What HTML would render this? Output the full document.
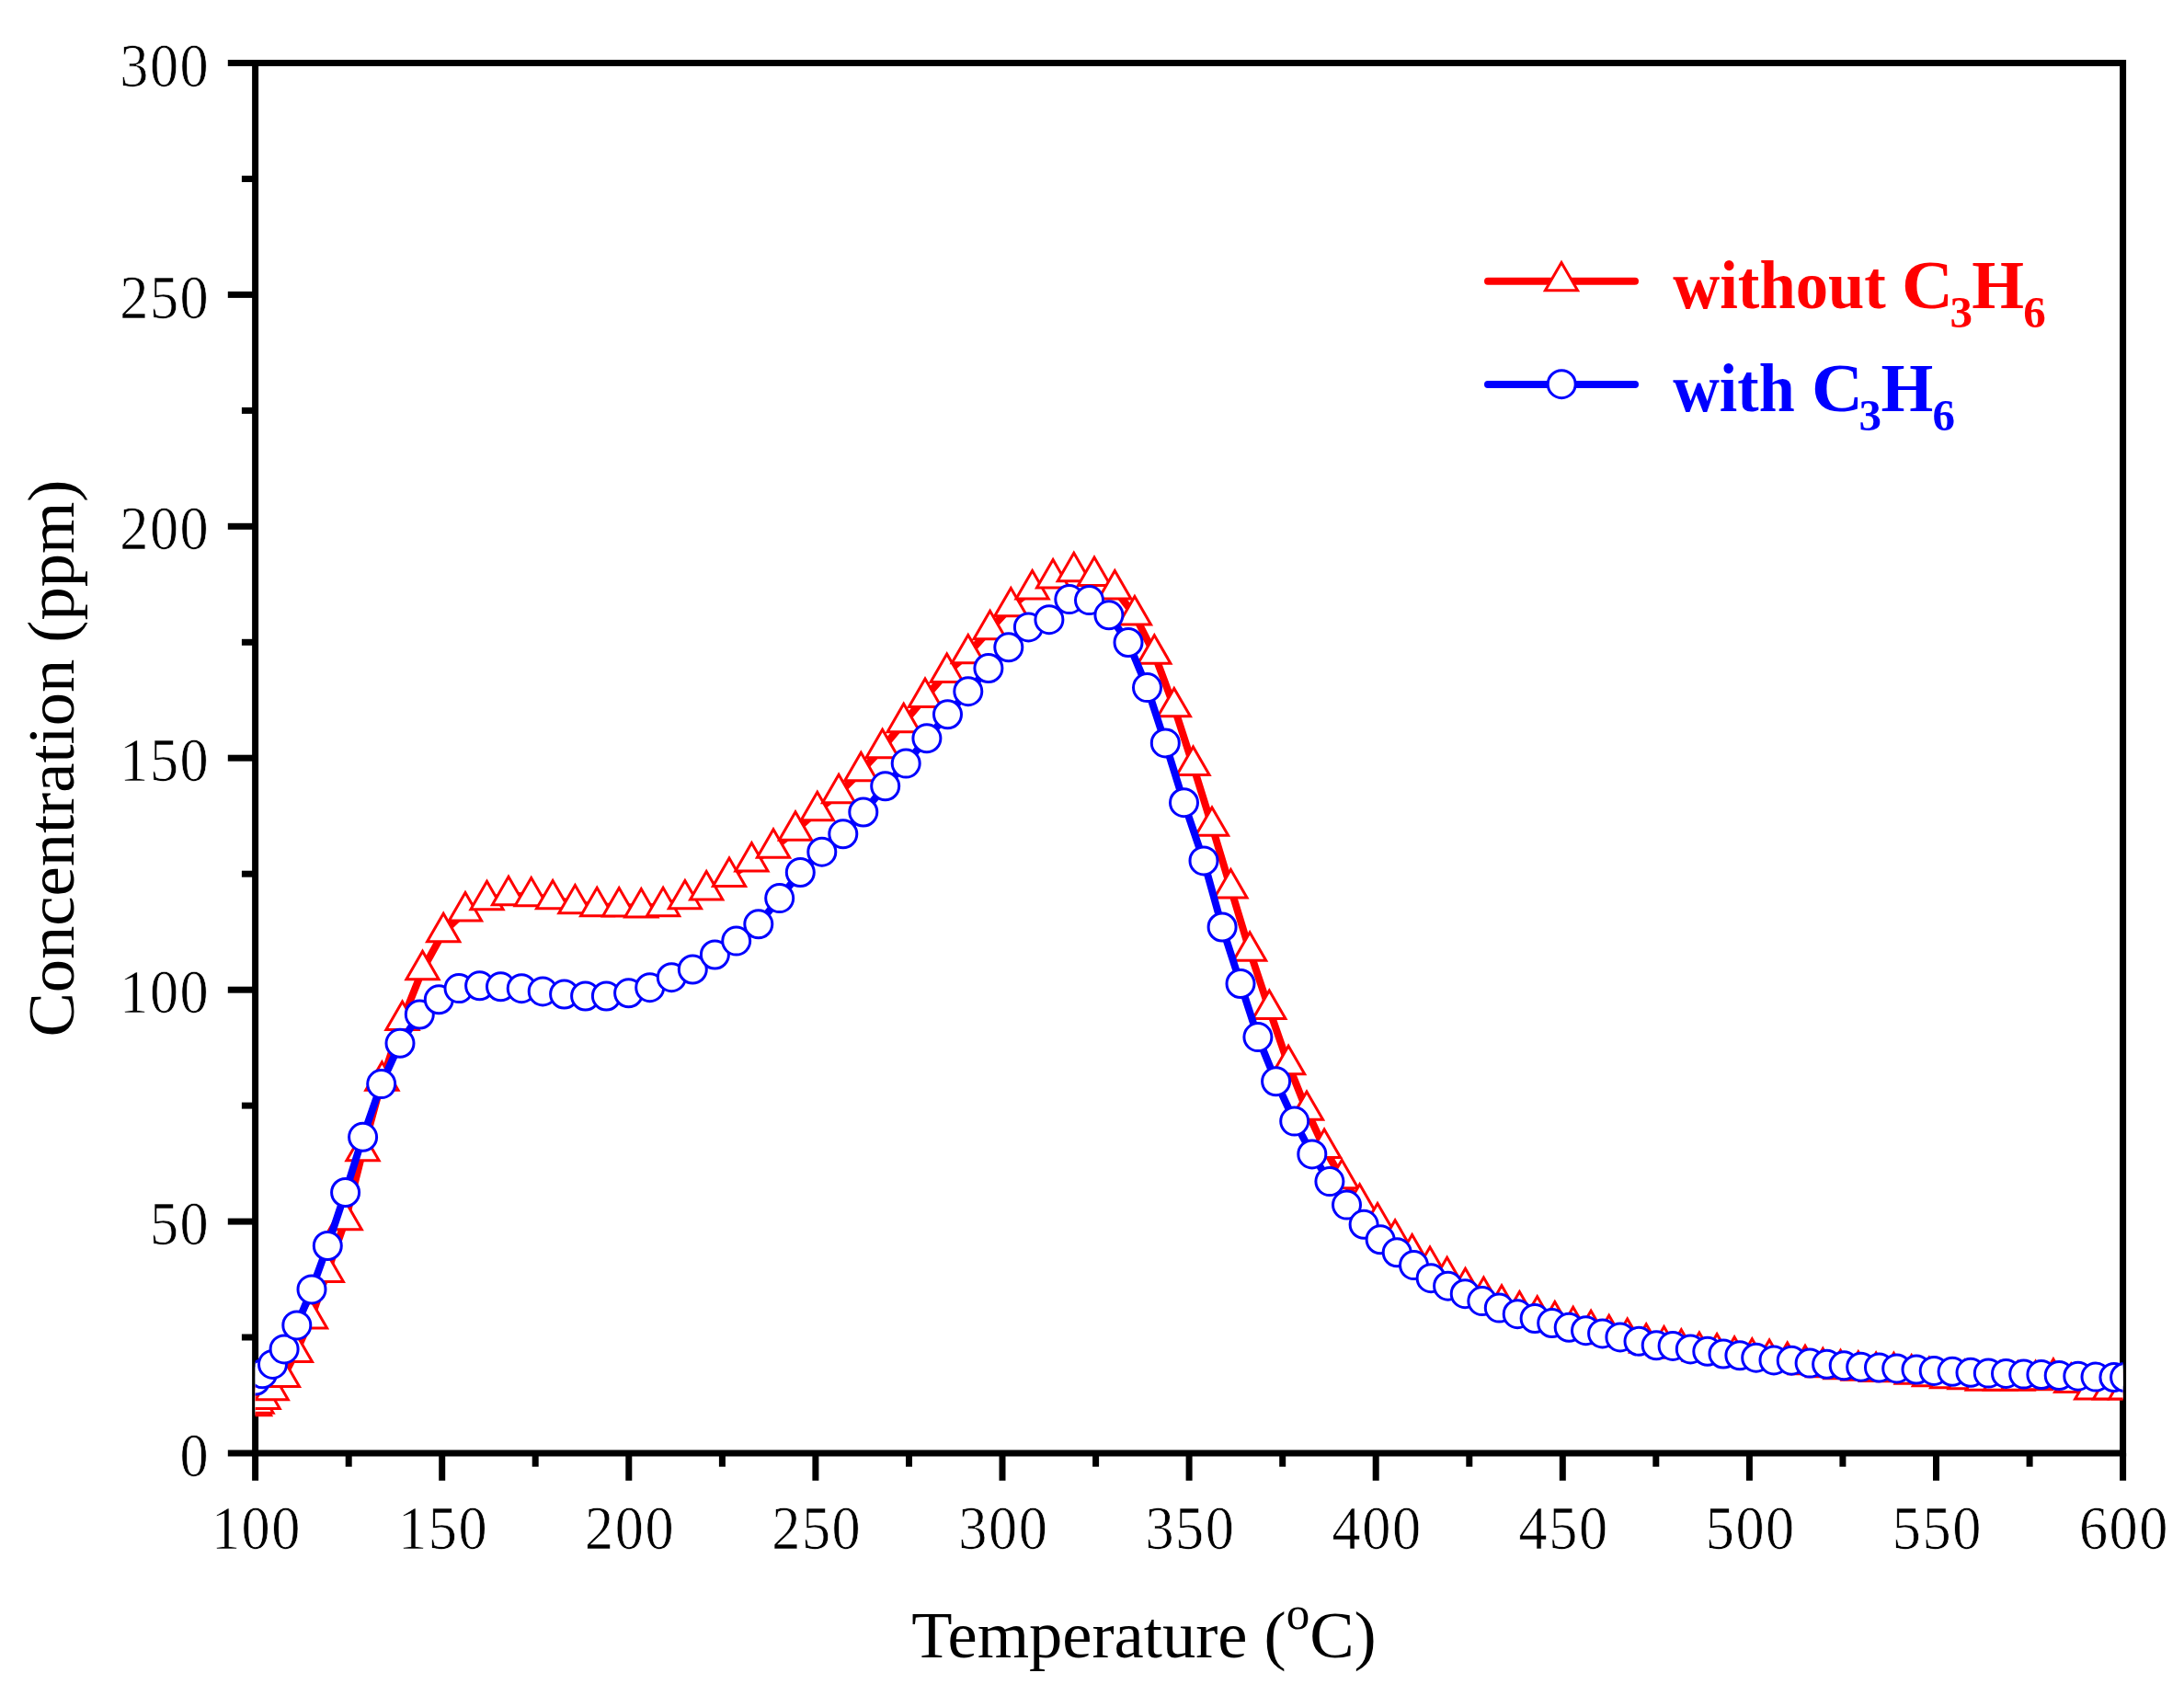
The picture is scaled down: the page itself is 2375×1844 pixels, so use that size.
<!DOCTYPE html>
<html lang="en"><head><meta charset="utf-8"><title>Concentration vs Temperature</title>
<style>
html,body{margin:0;padding:0;background:#fff;}
body{width:2375px;height:1844px;overflow:hidden;}
svg{display:block;}
.tick{font-family:"Liberation Serif","Noto Serif CJK SC",serif;font-size:67px;fill:#000;stroke:#fff;stroke-width:0.7px;}
.ttl{font-family:"Liberation Serif",serif;font-size:72.5px;fill:#000;}
.leg{font-family:"Liberation Serif",serif;font-weight:bold;font-size:73px;}
</style></head><body>
<svg width="2375" height="1844" viewBox="0 0 2375 1844">
<rect x="0" y="0" width="2375" height="1844" fill="#ffffff"/>
<defs><clipPath id="plot"><rect x="277.6" y="68.5" width="2031.0" height="1511.5"/></clipPath>
<path id="tri" d="M0,-20.3 L17.6,10.15 L-17.6,10.15 Z" fill="#fff" stroke-width="3" stroke-linejoin="miter"/>
<circle id="cir" cx="0" cy="0" r="15" fill="#fff" stroke-width="3"/>
</defs>
<g stroke="#000" stroke-width="7.0" fill="none" stroke-linecap="butt">
<line x1="277.6" y1="65.0" x2="277.6" y2="1583.5"/>
<line x1="2308.6" y1="65.0" x2="2308.6" y2="1583.5"/>
<line x1="277.6" y1="68.5" x2="2308.6" y2="68.5"/>
<line x1="277.6" y1="1580.0" x2="2308.6" y2="1580.0"/>
<line x1="277.6" y1="1580.0" x2="277.6" y2="1609.8"/>
<line x1="379.2" y1="1580.0" x2="379.2" y2="1594.7"/>
<line x1="480.7" y1="1580.0" x2="480.7" y2="1609.8"/>
<line x1="582.2" y1="1580.0" x2="582.2" y2="1594.7"/>
<line x1="683.8" y1="1580.0" x2="683.8" y2="1609.8"/>
<line x1="785.4" y1="1580.0" x2="785.4" y2="1594.7"/>
<line x1="886.9" y1="1580.0" x2="886.9" y2="1609.8"/>
<line x1="988.5" y1="1580.0" x2="988.5" y2="1594.7"/>
<line x1="1090.0" y1="1580.0" x2="1090.0" y2="1609.8"/>
<line x1="1191.6" y1="1580.0" x2="1191.6" y2="1594.7"/>
<line x1="1293.1" y1="1580.0" x2="1293.1" y2="1609.8"/>
<line x1="1394.7" y1="1580.0" x2="1394.7" y2="1594.7"/>
<line x1="1496.2" y1="1580.0" x2="1496.2" y2="1609.8"/>
<line x1="1597.8" y1="1580.0" x2="1597.8" y2="1594.7"/>
<line x1="1699.3" y1="1580.0" x2="1699.3" y2="1609.8"/>
<line x1="1800.8" y1="1580.0" x2="1800.8" y2="1594.7"/>
<line x1="1902.4" y1="1580.0" x2="1902.4" y2="1609.8"/>
<line x1="2003.9" y1="1580.0" x2="2003.9" y2="1594.7"/>
<line x1="2105.5" y1="1580.0" x2="2105.5" y2="1609.8"/>
<line x1="2207.1" y1="1580.0" x2="2207.1" y2="1594.7"/>
<line x1="2308.6" y1="1580.0" x2="2308.6" y2="1609.8"/>
<line x1="247.8" y1="1580.0" x2="277.6" y2="1580.0"/>
<line x1="262.9" y1="1454.0" x2="277.6" y2="1454.0"/>
<line x1="247.8" y1="1328.1" x2="277.6" y2="1328.1"/>
<line x1="262.9" y1="1202.1" x2="277.6" y2="1202.1"/>
<line x1="247.8" y1="1076.2" x2="277.6" y2="1076.2"/>
<line x1="262.9" y1="950.2" x2="277.6" y2="950.2"/>
<line x1="247.8" y1="824.2" x2="277.6" y2="824.2"/>
<line x1="262.9" y1="698.3" x2="277.6" y2="698.3"/>
<line x1="247.8" y1="572.3" x2="277.6" y2="572.3"/>
<line x1="262.9" y1="446.4" x2="277.6" y2="446.4"/>
<line x1="247.8" y1="320.4" x2="277.6" y2="320.4"/>
<line x1="262.9" y1="194.5" x2="277.6" y2="194.5"/>
<line x1="247.8" y1="68.5" x2="277.6" y2="68.5"/>
</g>
<g class="tick" text-anchor="middle" transform="scale(0.930,1)">
<text x="263.98 299.14 334.30" y="1684.3">100</text>
<text x="482.37 517.53 552.69" y="1684.3">150</text>
<text x="700.75 735.91 771.08" y="1684.3">200</text>
<text x="919.14 954.30 989.46" y="1684.3">250</text>
<text x="1137.53 1172.69 1207.85" y="1684.3">300</text>
<text x="1355.91 1391.08 1426.24" y="1684.3">350</text>
<text x="1574.30 1609.46 1644.62" y="1684.3">400</text>
<text x="1792.69 1827.85 1863.01" y="1684.3">450</text>
<text x="2011.08 2046.24 2081.40" y="1684.3">500</text>
<text x="2229.46 2264.62 2299.78" y="1684.3">550</text>
<text x="2447.85 2483.01 2518.17" y="1684.3">600</text>
<text x="227.10" y="1605.2">0</text>
<text x="191.94 227.10" y="1353.3">50</text>
<text x="156.77 191.94 227.10" y="1101.4">100</text>
<text x="156.77 191.94 227.10" y="849.5">150</text>
<text x="156.77 191.94 227.10" y="597.5">200</text>
<text x="156.77 191.94 227.10" y="345.6">250</text>
<text x="156.77 191.94 227.10" y="93.7">300</text>
</g>
<text class="ttl" x="1244" y="1802.1" font-size="72.3" text-anchor="middle">Temperature (<tspan font-size="51" dy="-31">o</tspan><tspan dy="31">C)</tspan></text>
<text class="ttl" font-size="72.7" transform="translate(80.4,824.5) rotate(-90)" text-anchor="middle">Concentration (ppm)</text>
<g clip-path="url(#plot)">
<g stroke="#ff0000">
<polyline points="277.0,1528.6 279.5,1526.0 286.6,1521.3 295.7,1511.7 307.9,1497.4 321.9,1470.4 338.0,1433.8 355.8,1383.4 375.7,1326.6 394.5,1251.6 415.4,1175.0 437.5,1109.4 459.5,1054.5 482.2,1013.5 506.0,990.8 529.5,978.6 553.0,973.6 577.7,974.7 601.1,977.7 625.4,982.7 649.2,985.5 673.2,985.9 697.3,986.8 721.1,985.5 744.9,977.7 768.2,967.8 793.0,953.4 817.4,936.9 841.0,922.0 865.0,903.0 888.8,881.5 912.1,862.6 936.3,838.6 959.6,813.5 982.7,785.6 1006.0,758.4 1029.7,731.3 1052.8,710.7 1076.6,684.5 1099.3,659.7 1122.6,640.8 1145.1,628.8 1167.8,621.5 1190.0,626.3 1212.3,640.8 1233.9,668.8 1255.3,711.0 1276.8,768.7 1297.5,832.4 1318.0,898.2 1338.4,965.9 1359.1,1034.1 1380.3,1097.4 1401.1,1157.6 1421.0,1207.2 1440.1,1248.3 1459.2,1281.5 1478.6,1308.0 1498.0,1328.7 1517.1,1347.0 1535.6,1362.9 1555.0,1376.2 1573.6,1387.6 1593.5,1399.6 1613.4,1409.4 1633.0,1418.1 1652.4,1424.8 1671.7,1430.1 1690.8,1435.9 1710.7,1441.5 1730.1,1445.5 1749.7,1450.5 1769.7,1454.3 1790.2,1460.0 1809.5,1462.8 1828.3,1466.1 1847.9,1469.2 1867.1,1470.9 1886.1,1474.0 1905.3,1476.1 1924.1,1477.2 1943.7,1480.2 1963.0,1483.5 1982.3,1486.5 2001.5,1488.5 2020.8,1490.0 2040.1,1491.3 2059.4,1491.5 2078.7,1494.0 2097.9,1496.5 2117.2,1498.7 2136.5,1499.5 2155.8,1501.0 2175.1,1501.0 2194.3,1501.0 2213.6,1500.5 2232.9,1498.0 2252.2,1503.3 2274.2,1510.8 2294.1,1510.8 2311.3,1510.8" fill="none" stroke-width="8" stroke-linejoin="round"/>
<use href="#tri" x="277.0" y="1528.6"/>
<use href="#tri" x="279.5" y="1526.0"/>
<use href="#tri" x="286.6" y="1521.3"/>
<use href="#tri" x="295.7" y="1511.7"/>
<use href="#tri" x="307.9" y="1497.4"/>
<use href="#tri" x="321.9" y="1470.4"/>
<use href="#tri" x="338.0" y="1433.8"/>
<use href="#tri" x="355.8" y="1383.4"/>
<use href="#tri" x="375.7" y="1326.6"/>
<use href="#tri" x="394.5" y="1251.6"/>
<use href="#tri" x="415.4" y="1175.0"/>
<use href="#tri" x="437.5" y="1109.4"/>
<use href="#tri" x="459.5" y="1054.5"/>
<use href="#tri" x="482.2" y="1013.5"/>
<use href="#tri" x="506.0" y="990.8"/>
<use href="#tri" x="529.5" y="978.6"/>
<use href="#tri" x="553.0" y="973.6"/>
<use href="#tri" x="577.7" y="974.7"/>
<use href="#tri" x="601.1" y="977.7"/>
<use href="#tri" x="625.4" y="982.7"/>
<use href="#tri" x="649.2" y="985.5"/>
<use href="#tri" x="673.2" y="985.9"/>
<use href="#tri" x="697.3" y="986.8"/>
<use href="#tri" x="721.1" y="985.5"/>
<use href="#tri" x="744.9" y="977.7"/>
<use href="#tri" x="768.2" y="967.8"/>
<use href="#tri" x="793.0" y="953.4"/>
<use href="#tri" x="817.4" y="936.9"/>
<use href="#tri" x="841.0" y="922.0"/>
<use href="#tri" x="865.0" y="903.0"/>
<use href="#tri" x="888.8" y="881.5"/>
<use href="#tri" x="912.1" y="862.6"/>
<use href="#tri" x="936.3" y="838.6"/>
<use href="#tri" x="959.6" y="813.5"/>
<use href="#tri" x="982.7" y="785.6"/>
<use href="#tri" x="1006.0" y="758.4"/>
<use href="#tri" x="1029.7" y="731.3"/>
<use href="#tri" x="1052.8" y="710.7"/>
<use href="#tri" x="1076.6" y="684.5"/>
<use href="#tri" x="1099.3" y="659.7"/>
<use href="#tri" x="1122.6" y="640.8"/>
<use href="#tri" x="1145.1" y="628.8"/>
<use href="#tri" x="1167.8" y="621.5"/>
<use href="#tri" x="1190.0" y="626.3"/>
<use href="#tri" x="1212.3" y="640.8"/>
<use href="#tri" x="1233.9" y="668.8"/>
<use href="#tri" x="1255.3" y="711.0"/>
<use href="#tri" x="1276.8" y="768.7"/>
<use href="#tri" x="1297.5" y="832.4"/>
<use href="#tri" x="1318.0" y="898.2"/>
<use href="#tri" x="1338.4" y="965.9"/>
<use href="#tri" x="1359.1" y="1034.1"/>
<use href="#tri" x="1380.3" y="1097.4"/>
<use href="#tri" x="1401.1" y="1157.6"/>
<use href="#tri" x="1421.0" y="1207.2"/>
<use href="#tri" x="1440.1" y="1248.3"/>
<use href="#tri" x="1459.2" y="1281.5"/>
<use href="#tri" x="1478.6" y="1308.0"/>
<use href="#tri" x="1498.0" y="1328.7"/>
<use href="#tri" x="1517.1" y="1347.0"/>
<use href="#tri" x="1535.6" y="1362.9"/>
<use href="#tri" x="1555.0" y="1376.2"/>
<use href="#tri" x="1573.6" y="1387.6"/>
<use href="#tri" x="1593.5" y="1399.6"/>
<use href="#tri" x="1613.4" y="1409.4"/>
<use href="#tri" x="1633.0" y="1418.1"/>
<use href="#tri" x="1652.4" y="1424.8"/>
<use href="#tri" x="1671.7" y="1430.1"/>
<use href="#tri" x="1690.8" y="1435.9"/>
<use href="#tri" x="1710.7" y="1441.5"/>
<use href="#tri" x="1730.1" y="1445.5"/>
<use href="#tri" x="1749.7" y="1450.5"/>
<use href="#tri" x="1769.7" y="1454.3"/>
<use href="#tri" x="1790.2" y="1460.0"/>
<use href="#tri" x="1809.5" y="1462.8"/>
<use href="#tri" x="1828.3" y="1466.1"/>
<use href="#tri" x="1847.9" y="1469.2"/>
<use href="#tri" x="1867.1" y="1470.9"/>
<use href="#tri" x="1886.1" y="1474.0"/>
<use href="#tri" x="1905.3" y="1476.1"/>
<use href="#tri" x="1924.1" y="1477.2"/>
<use href="#tri" x="1943.7" y="1480.2"/>
<use href="#tri" x="1963.0" y="1483.5"/>
<use href="#tri" x="1982.3" y="1486.5"/>
<use href="#tri" x="2001.5" y="1488.5"/>
<use href="#tri" x="2020.8" y="1490.0"/>
<use href="#tri" x="2040.1" y="1491.3"/>
<use href="#tri" x="2059.4" y="1491.5"/>
<use href="#tri" x="2078.7" y="1494.0"/>
<use href="#tri" x="2097.9" y="1496.5"/>
<use href="#tri" x="2117.2" y="1498.7"/>
<use href="#tri" x="2136.5" y="1499.5"/>
<use href="#tri" x="2155.8" y="1501.0"/>
<use href="#tri" x="2175.1" y="1501.0"/>
<use href="#tri" x="2194.3" y="1501.0"/>
<use href="#tri" x="2213.6" y="1500.5"/>
<use href="#tri" x="2232.9" y="1498.0"/>
<use href="#tri" x="2252.2" y="1503.3"/>
<use href="#tri" x="2274.2" y="1510.8"/>
<use href="#tri" x="2294.1" y="1510.8"/>
<use href="#tri" x="2311.3" y="1510.8"/>
</g>
<g stroke="#0000ff">
<polyline points="278.0,1501.0 285.5,1493.7 296.5,1483.4 309.1,1466.9 322.8,1440.9 339.0,1401.9 356.3,1354.5 375.6,1296.5 394.6,1236.3 414.7,1178.6 435.0,1134.3 456.3,1103.0 477.3,1086.8 499.0,1074.6 521.6,1071.8 544.5,1072.8 567.2,1074.7 590.2,1077.9 613.6,1081.0 636.6,1083.0 659.4,1083.0 683.6,1079.8 706.7,1073.7 730.3,1062.7 753.3,1054.0 777.4,1038.0 800.7,1023.1 824.8,1004.8 847.7,976.6 870.3,948.5 893.8,926.2 916.8,906.8 938.8,883.0 962.7,854.8 985.2,830.1 1007.9,802.8 1030.5,776.8 1052.8,751.7 1074.9,726.5 1096.8,703.8 1118.4,681.9 1140.9,673.7 1162.8,651.6 1184.5,652.6 1205.9,668.8 1227.0,698.5 1247.5,747.6 1267.3,807.9 1287.5,872.7 1309.0,935.9 1329.1,1008.0 1349.0,1069.5 1367.9,1127.6 1387.6,1175.8 1407.7,1219.1 1426.8,1254.9 1445.9,1284.6 1464.5,1310.1 1483.1,1331.3 1501.1,1347.8 1519.2,1361.8 1537.5,1375.6 1556.1,1389.7 1574.6,1398.2 1593.2,1406.7 1611.8,1414.6 1630.3,1422.1 1650.2,1428.7 1669.1,1433.5 1687.7,1438.5 1706.2,1443.3 1724.5,1446.7 1742.6,1449.9 1761.9,1453.9 1782.0,1458.3 1801.2,1462.8 1819.1,1463.4 1838.3,1466.9 1856.8,1469.3 1874.0,1472.0 1891.9,1473.8 1909.7,1476.2 1929.0,1478.9 1948.2,1479.2 1968.1,1482.1 1986.6,1483.3 2005.2,1484.8 2023.7,1486.2 2043.5,1486.9 2062.7,1487.9 2084.0,1489.0 2103.2,1490.4 2123.1,1491.3 2143.0,1492.3 2162.3,1493.1 2181.5,1493.4 2200.7,1494.1 2219.9,1494.5 2239.2,1495.5 2259.8,1496.2 2279.0,1497.1 2298.9,1497.5 2310.6,1497.5" fill="none" stroke-width="8" stroke-linejoin="round"/>
<use href="#cir" x="278.0" y="1501.0"/>
<use href="#cir" x="285.5" y="1493.7"/>
<use href="#cir" x="296.5" y="1483.4"/>
<use href="#cir" x="309.1" y="1466.9"/>
<use href="#cir" x="322.8" y="1440.9"/>
<use href="#cir" x="339.0" y="1401.9"/>
<use href="#cir" x="356.3" y="1354.5"/>
<use href="#cir" x="375.6" y="1296.5"/>
<use href="#cir" x="394.6" y="1236.3"/>
<use href="#cir" x="414.7" y="1178.6"/>
<use href="#cir" x="435.0" y="1134.3"/>
<use href="#cir" x="456.3" y="1103.0"/>
<use href="#cir" x="477.3" y="1086.8"/>
<use href="#cir" x="499.0" y="1074.6"/>
<use href="#cir" x="521.6" y="1071.8"/>
<use href="#cir" x="544.5" y="1072.8"/>
<use href="#cir" x="567.2" y="1074.7"/>
<use href="#cir" x="590.2" y="1077.9"/>
<use href="#cir" x="613.6" y="1081.0"/>
<use href="#cir" x="636.6" y="1083.0"/>
<use href="#cir" x="659.4" y="1083.0"/>
<use href="#cir" x="683.6" y="1079.8"/>
<use href="#cir" x="706.7" y="1073.7"/>
<use href="#cir" x="730.3" y="1062.7"/>
<use href="#cir" x="753.3" y="1054.0"/>
<use href="#cir" x="777.4" y="1038.0"/>
<use href="#cir" x="800.7" y="1023.1"/>
<use href="#cir" x="824.8" y="1004.8"/>
<use href="#cir" x="847.7" y="976.6"/>
<use href="#cir" x="870.3" y="948.5"/>
<use href="#cir" x="893.8" y="926.2"/>
<use href="#cir" x="916.8" y="906.8"/>
<use href="#cir" x="938.8" y="883.0"/>
<use href="#cir" x="962.7" y="854.8"/>
<use href="#cir" x="985.2" y="830.1"/>
<use href="#cir" x="1007.9" y="802.8"/>
<use href="#cir" x="1030.5" y="776.8"/>
<use href="#cir" x="1052.8" y="751.7"/>
<use href="#cir" x="1074.9" y="726.5"/>
<use href="#cir" x="1096.8" y="703.8"/>
<use href="#cir" x="1118.4" y="681.9"/>
<use href="#cir" x="1140.9" y="673.7"/>
<use href="#cir" x="1162.8" y="651.6"/>
<use href="#cir" x="1184.5" y="652.6"/>
<use href="#cir" x="1205.9" y="668.8"/>
<use href="#cir" x="1227.0" y="698.5"/>
<use href="#cir" x="1247.5" y="747.6"/>
<use href="#cir" x="1267.3" y="807.9"/>
<use href="#cir" x="1287.5" y="872.7"/>
<use href="#cir" x="1309.0" y="935.9"/>
<use href="#cir" x="1329.1" y="1008.0"/>
<use href="#cir" x="1349.0" y="1069.5"/>
<use href="#cir" x="1367.9" y="1127.6"/>
<use href="#cir" x="1387.6" y="1175.8"/>
<use href="#cir" x="1407.7" y="1219.1"/>
<use href="#cir" x="1426.8" y="1254.9"/>
<use href="#cir" x="1445.9" y="1284.6"/>
<use href="#cir" x="1464.5" y="1310.1"/>
<use href="#cir" x="1483.1" y="1331.3"/>
<use href="#cir" x="1501.1" y="1347.8"/>
<use href="#cir" x="1519.2" y="1361.8"/>
<use href="#cir" x="1537.5" y="1375.6"/>
<use href="#cir" x="1556.1" y="1389.7"/>
<use href="#cir" x="1574.6" y="1398.2"/>
<use href="#cir" x="1593.2" y="1406.7"/>
<use href="#cir" x="1611.8" y="1414.6"/>
<use href="#cir" x="1630.3" y="1422.1"/>
<use href="#cir" x="1650.2" y="1428.7"/>
<use href="#cir" x="1669.1" y="1433.5"/>
<use href="#cir" x="1687.7" y="1438.5"/>
<use href="#cir" x="1706.2" y="1443.3"/>
<use href="#cir" x="1724.5" y="1446.7"/>
<use href="#cir" x="1742.6" y="1449.9"/>
<use href="#cir" x="1761.9" y="1453.9"/>
<use href="#cir" x="1782.0" y="1458.3"/>
<use href="#cir" x="1801.2" y="1462.8"/>
<use href="#cir" x="1819.1" y="1463.4"/>
<use href="#cir" x="1838.3" y="1466.9"/>
<use href="#cir" x="1856.8" y="1469.3"/>
<use href="#cir" x="1874.0" y="1472.0"/>
<use href="#cir" x="1891.9" y="1473.8"/>
<use href="#cir" x="1909.7" y="1476.2"/>
<use href="#cir" x="1929.0" y="1478.9"/>
<use href="#cir" x="1948.2" y="1479.2"/>
<use href="#cir" x="1968.1" y="1482.1"/>
<use href="#cir" x="1986.6" y="1483.3"/>
<use href="#cir" x="2005.2" y="1484.8"/>
<use href="#cir" x="2023.7" y="1486.2"/>
<use href="#cir" x="2043.5" y="1486.9"/>
<use href="#cir" x="2062.7" y="1487.9"/>
<use href="#cir" x="2084.0" y="1489.0"/>
<use href="#cir" x="2103.2" y="1490.4"/>
<use href="#cir" x="2123.1" y="1491.3"/>
<use href="#cir" x="2143.0" y="1492.3"/>
<use href="#cir" x="2162.3" y="1493.1"/>
<use href="#cir" x="2181.5" y="1493.4"/>
<use href="#cir" x="2200.7" y="1494.1"/>
<use href="#cir" x="2219.9" y="1494.5"/>
<use href="#cir" x="2239.2" y="1495.5"/>
<use href="#cir" x="2259.8" y="1496.2"/>
<use href="#cir" x="2279.0" y="1497.1"/>
<use href="#cir" x="2298.9" y="1497.5"/>
<use href="#cir" x="2310.6" y="1497.5"/>
</g>
</g>
<g stroke="#ff0000"><line x1="1618" y1="305.7" x2="1778" y2="305.7" stroke-width="8" stroke-linecap="round"/><use href="#tri" x="1698" y="305.7"/></g>
<g stroke="#0000ff"><line x1="1618" y1="418" x2="1778" y2="418" stroke-width="8" stroke-linecap="round"/><use href="#cir" x="1698.2" y="417.7"/></g>
<text class="leg" fill="#ff0000"><tspan x="1819.2" y="335.2" textLength="231.7" lengthAdjust="spacingAndGlyphs">without</tspan><tspan x="2067.9" y="335.2" textLength="56" lengthAdjust="spacingAndGlyphs">C</tspan><tspan x="2120.4" y="356" font-size="49">3</tspan><tspan x="2144.2" y="335.2">H</tspan><tspan x="2200.2" y="356" font-size="49">6</tspan></text>
<text class="leg" fill="#0000ff"><tspan x="1819.2" y="447.3" textLength="132.5" lengthAdjust="spacingAndGlyphs">with</tspan><tspan x="1970" y="447.3" textLength="56" lengthAdjust="spacingAndGlyphs">C</tspan><tspan x="2021.5" y="468.1" font-size="49">3</tspan><tspan x="2045.6" y="447.3">H</tspan><tspan x="2101.6" y="468.1" font-size="49">6</tspan></text>
</svg>
</body></html>
